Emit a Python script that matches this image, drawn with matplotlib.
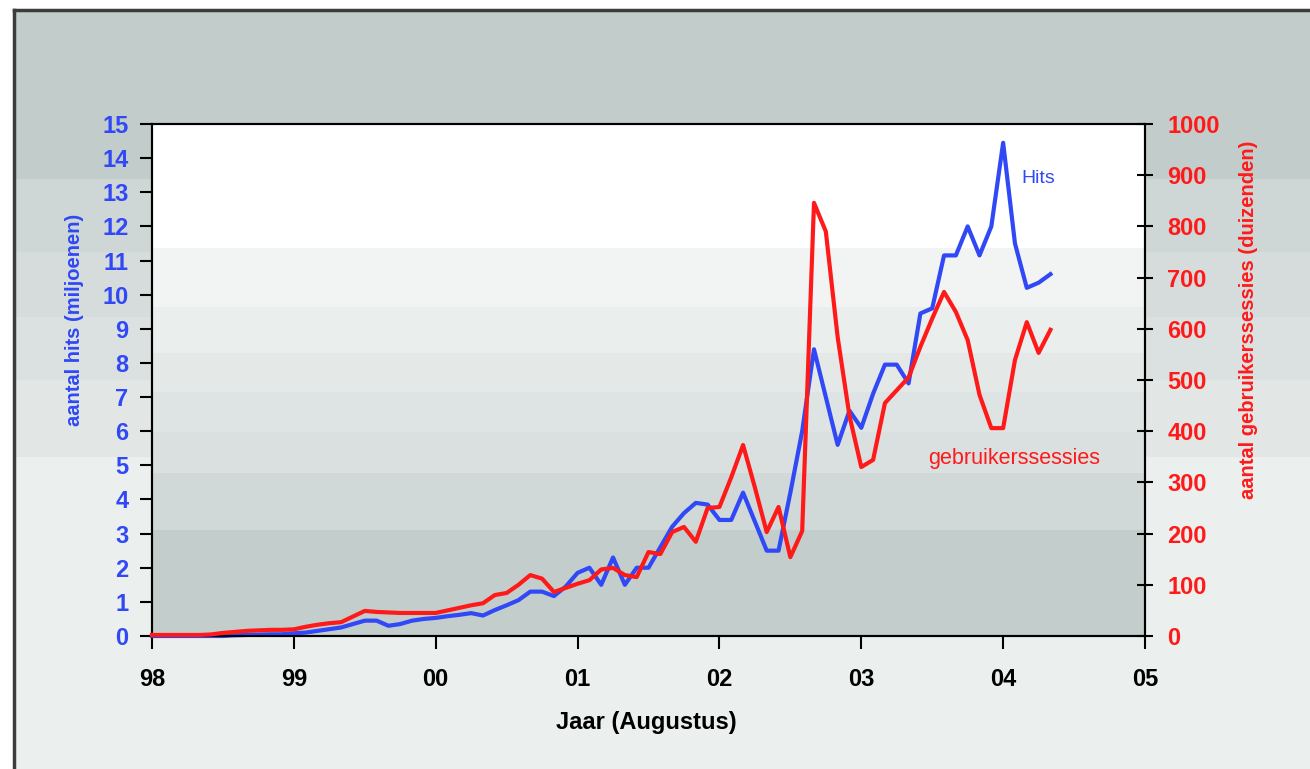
import matplotlib.pyplot as plt
from matplotlib.patches import Rectangle
from matplotlib.lines import Line2D
import numpy as np

# maandelijkse waarden vanaf augustus 1998
hits = [
    0.0, 0.0, 0.0, 0.0, 0.0, 0.0, 0.0, 0.02, 0.03, 0.04, 0.05, 0.05,
    0.08, 0.1, 0.15, 0.2, 0.25, 0.35, 0.45, 0.45, 0.3, 0.35, 0.45, 0.5,
    0.53, 0.58, 0.62, 0.67, 0.6, 0.76, 0.9, 1.05, 1.3, 1.3, 1.17, 1.45,
    1.85, 2.0, 1.5, 2.3, 1.5, 2.0, 2.0, 2.6, 3.2, 3.6, 3.9, 3.85,
    3.4, 3.4, 4.2, 3.35, 2.5, 2.5, 4.2, 6.0, 8.4, 7.0, 5.6, 6.6,
    6.1, 7.1, 7.95, 7.95, 7.4, 9.45, 9.6, 11.15, 11.15, 12.0, 11.15, 12.0,
    14.45, 11.5, 10.2, 10.35, 10.6,
]
sessies = [
    2, 2, 2, 2, 2, 3, 6, 8, 10, 11, 12, 12,
    13, 18, 22, 25, 27, 38, 49, 47, 46, 45, 45, 45,
    45, 50, 55, 60, 64, 80, 84, 100, 119, 112, 86, 94,
    102, 109, 130, 133, 119, 115, 164, 160, 203, 213, 184, 250,
    252, 310, 373, 290, 203, 252, 154, 205, 846, 790, 584, 430,
    330, 344, 455, 480, 505, 565, 620, 672, 633, 578, 471, 406,
    406, 539, 613, 553, 598,
]
jaar_labels = ['98', '99', '00', '01', '02', '03', '04', '05']
hits_ticks = list(range(0, 16))
sessie_ticks = list(range(0, 1001, 100))

BLAUW = '#3048f5'
ROOD = '#ff1a1a'
W, H = 1310, 769

plt.rcParams['font.family'] = ['Liberation Sans']
plt.rcParams['font.weight'] = 'bold'

fig = plt.figure(figsize=(W / 100, H / 100), dpi=100)
fig.patch.set_facecolor('white')

# achtergrondbanden van de figuur (pixelrijen)
buiten = [(10, 179, '#c2cdcb'), (179, 252, '#ced7d5'), (252, 317, '#d5dcdb'),
          (317, 380, '#dbe1e0'), (380, 457, '#e2e7e6'), (457, 769, '#ebefee')]
for y0, y1, c in buiten:
    fig.patches.append(Rectangle((14 / W, 1 - y1 / H), 1 - 14 / W, (y1 - y0) / H,
                                 transform=fig.transFigure, facecolor=c,
                                 edgecolor='none', zorder=-10))
fig.add_artist(Line2D([14 / W, 1], [1 - 10 / H, 1 - 10 / H], color='#3c3c3c', lw=2.5))
fig.add_artist(Line2D([14 / W, 14 / W], [0, 1 - 10 / H], color='#3c3c3c', lw=2.5))

ax = fig.add_axes([152 / W, 1 - 636 / H, 993 / W, 512 / H])
ax.patch.set_facecolor('white')

# banden binnen het plotvlak
binnen = [(248, 307, '#f2f4f4'), (307, 353, '#eaeeed'), (353, 392, '#e4e9e8'),
          (392, 432, '#dee4e3'), (432, 473, '#d9e0df'), (473, 530, '#d0d9d7'),
          (530, 636, '#c3cecc')]
for y0, y1, c in binnen:
    ax.add_patch(Rectangle((0, (636 - y1) / 512), 1, (y1 - y0) / 512,
                           transform=ax.transAxes, facecolor=c, edgecolor='none', zorder=0))

x = np.arange(len(hits)) / 12
ax.plot(x, hits, color=BLAUW, lw=3, zorder=3, clip_on=False)

ax2 = ax.twinx()
ax2.patch.set_visible(False)
ax2.plot(x, sessies, color=ROOD, lw=3, zorder=3, clip_on=False)

ax.set_xlim(0, 7)
ax.set_ylim(0, 15)
ax2.set_ylim(0, 1000)
ax.set_xticks(range(len(jaar_labels)))
ax.set_xticklabels(jaar_labels)
ax.set_yticks(hits_ticks)
ax2.set_yticks(sessie_ticks)

ax.tick_params(axis='x', direction='out', length=9, width=1.5, pad=14,
               labelsize=17, labelcolor='black')
ax.tick_params(axis='y', direction='out', length=9, width=1.5, pad=8,
               labelsize=17, labelcolor=BLAUW)
ax2.tick_params(axis='y', direction='inout', length=12, width=1.5, pad=10,
                labelsize=17, labelcolor=ROOD)

for a in (ax, ax2):
    for s in a.spines.values():
        s.set_color('black')
        s.set_linewidth(1.5)

fig.text(75 / W, 1 - 320 / H, 'aantal hits (miljoenen)', rotation=90, color=BLAUW,
         fontsize=14.5, ha='center', va='center')
fig.text(1248 / W, 1 - 320 / H, 'aantal gebruikerssessies (duizenden)', rotation=90,
         color=ROOD, fontsize=14.5, ha='center', va='center')
fig.text(646 / W, 1 - 722 / H, 'Jaar (Augustus)', color='black', fontsize=17,
         ha='center', va='center')

ax.text(6.13, 13.4, 'Hits', color=BLAUW, fontsize=14, fontweight='normal', va='center')
ax.text(5.47, 5.2, 'gebruikerssessies', color=ROOD, fontsize=15.5, fontweight='normal',
        va='center')

fig.savefig('out.png', dpi=100)
